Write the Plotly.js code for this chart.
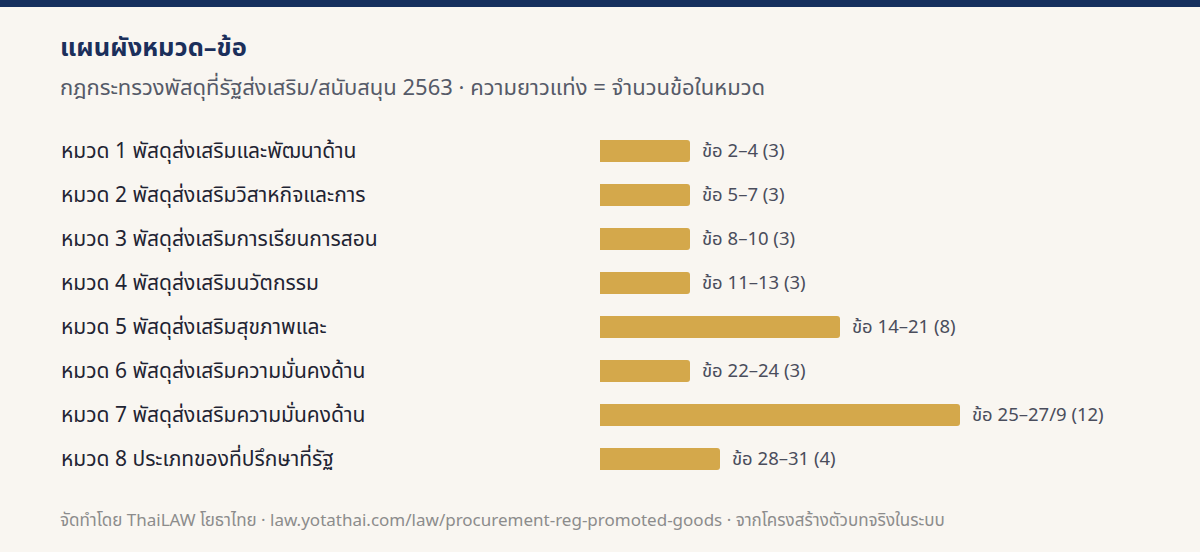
<!DOCTYPE html>
<html>
<head>
<meta charset="utf-8">
<script src="https://cdn.plot.ly/plotly-3.0.1.min.js"></script>
<style>
html,body{margin:0;padding:0;background:#f9f6f1;}
#chart{width:1200px;height:552px;}
</style>
</head>
<body>
<div id="chart"></div>
<script>
const categories = [
  'หมวด 1 พัสดุส่งเสริมและพัฒนาด้าน',
  'หมวด 2 พัสดุส่งเสริมวิสาหกิจและการ',
  'หมวด 3 พัสดุส่งเสริมการเรียนการสอน',
  'หมวด 4 พัสดุส่งเสริมนวัตกรรม',
  'หมวด 5 พัสดุส่งเสริมสุขภาพและ',
  'หมวด 6 พัสดุส่งเสริมความมั่นคงด้าน',
  'หมวด 7 พัสดุส่งเสริมความมั่นคงด้าน',
  'หมวด 8 ประเภทของที่ปรึกษาที่รัฐ'
];
const counts = [3, 3, 3, 3, 8, 3, 12, 4];
const sectionRanges = ['ข้อ 2–4', 'ข้อ 5–7', 'ข้อ 8–10', 'ข้อ 11–13', 'ข้อ 14–21', 'ข้อ 22–24', 'ข้อ 25–27/9', 'ข้อ 28–31'];

const titleText = 'แผนผังหมวด–ข้อ';
const subtitleText = 'กฎกระทรวงพัสดุที่รัฐส่งเสริม/สนับสนุน 2563 · ความยาวแท่ง = จำนวนข้อในหมวด';
const footerText = 'จัดทำโดย ThaiLAW โยธาไทย · law.yotathai.com/law/procurement-reg-promoted-goods · จากโครงสร้างตัวบทจริงในระบบ';

const FONT = '"Noto Sans Thai", "Noto Sans", sans-serif';

// layout geometry
const W = 1200, H = 552;
const mL = 600, mR = 0, mT = 129, mB = 71;
const plotW = W - mL - mR, plotH = H - mT - mB;
const px2x = px => (px - mL) / plotW;
const py2y = py => (H - mB - py) / plotH;

const trace = {
  type: 'bar',
  orientation: 'h',
  y: categories,
  x: counts,
  width: 0.5,
  marker: { color: '#d4a84b', cornerradius: 3 },
  hoverinfo: 'skip'
};

const annotations = [];
categories.forEach((c, i) => {
  annotations.push({
    xref: 'paper', yref: 'y', x: px2x(59), y: c,
    xanchor: 'left', yanchor: 'middle', showarrow: false,
    text: c, font: { family: FONT, size: 21, color: '#1f2433' }
  });
  annotations.push({
    xref: 'x', yref: 'y', x: counts[i], y: c, xshift: 10,
    xanchor: 'left', yanchor: 'middle', showarrow: false,
    text: sectionRanges[i] + ' (' + counts[i] + ')',
    font: { family: FONT, size: 18.5, color: '#4a4d5c' }
  });
});
annotations.push({
  xref: 'paper', yref: 'paper', x: px2x(58), y: py2y(48),
  xanchor: 'left', yanchor: 'middle', showarrow: false,
  text: '<b>' + titleText + '</b>', font: { family: FONT, size: 25.5, color: '#1b2f5b' }
});
annotations.push({
  xref: 'paper', yref: 'paper', x: px2x(58), y: py2y(88),
  xanchor: 'left', yanchor: 'middle', showarrow: false,
  text: subtitleText, font: { family: FONT, size: 22, color: '#555a68' }
});
annotations.push({
  xref: 'paper', yref: 'paper', x: px2x(58), y: py2y(521),
  xanchor: 'left', yanchor: 'middle', showarrow: false,
  text: footerText, font: { family: FONT, size: 17, color: '#8c8c8c' }
});

const layout = {
  width: W, height: H,
  margin: { l: mL, r: mR, t: mT, b: mB, pad: 0 },
  paper_bgcolor: '#f9f6f1',
  plot_bgcolor: '#f9f6f1',
  showlegend: false,
  font: { family: FONT },
  xaxis: { range: [0, 20], visible: false, fixedrange: true },
  yaxis: { type: 'category', autorange: 'reversed', showticklabels: false, showgrid: false, zeroline: false, showline: false, ticks: '', fixedrange: true },
  shapes: [{
    type: 'rect', xref: 'paper', yref: 'paper',
    x0: px2x(0), x1: px2x(W), y0: py2y(7), y1: py2y(0),
    fillcolor: '#16305e', line: { width: 0 }, layer: 'above'
  }],
  annotations: annotations
};

Plotly.newPlot('chart', [trace], layout, { displayModeBar: false, staticPlot: true });
</script>
</body>
</html>
